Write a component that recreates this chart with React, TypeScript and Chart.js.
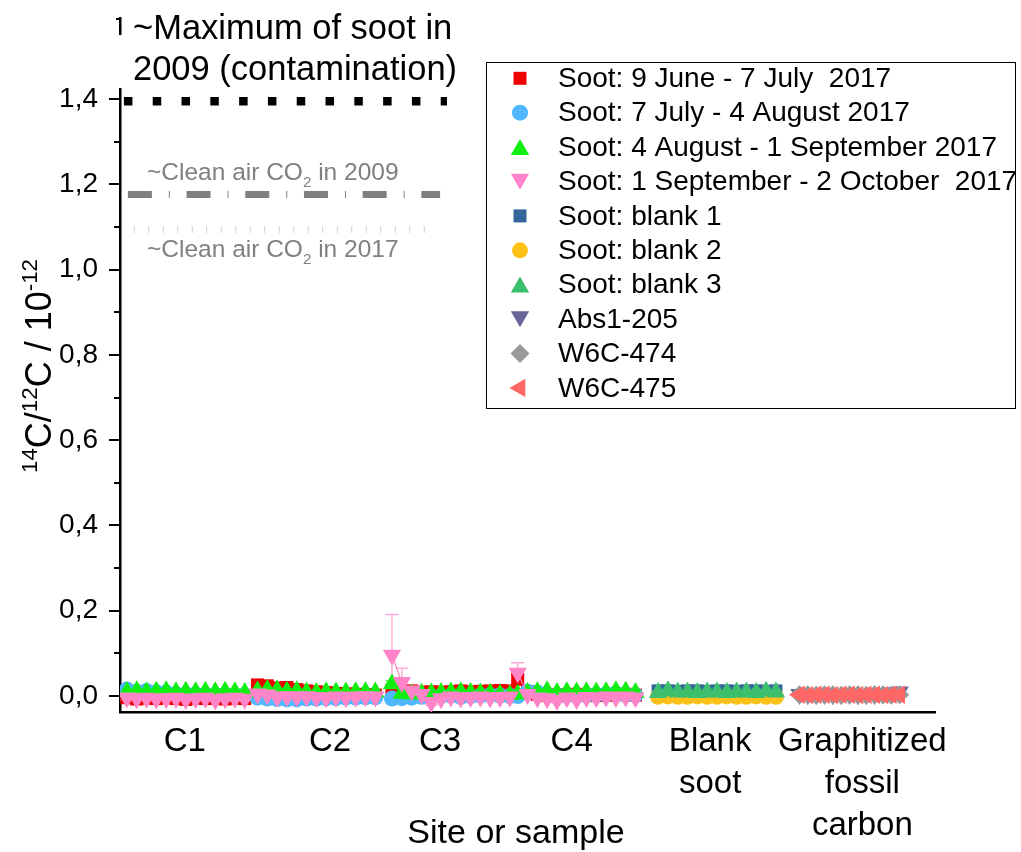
import React, { useEffect, useRef } from 'react';
import { Chart, registerables } from 'chart.js';

Chart.register(...registerables);

const FONT = '"Liberation Sans", Arial, sans-serif';

// ---- Category axis (x in "slot" units) ----
const groupLabels: string[][] = [['C1'], ['C2'], ['C3'], ['C4'], ['Blank', 'soot'], ['Graphitized', 'fossil', 'carbon']];
const groupLabelPos = [6.6, 21.4, 32.6, 46.0, 60.1, 75.6];
const groupStart = [0.7, 14.0, 27.7, 40.5, 54.8, 69.2];
const groupStep = [1, 1, 1, 1, 1, 0.85];

// ---- y axis ----
const yTicks = [0, 0.2, 0.4, 0.6, 0.8, 1.0, 1.2, 1.4];
const yMinorTicks = [0.1, 0.3, 0.5, 0.7, 0.9, 1.1, 1.3, 1.5];

// ---- Reference levels ----
const maxSoot2009 = 1.395;
const cleanAir2009 = 1.176;
const cleanAir2017 = 1.094;

// ---- Series values (one array per site C1..C4) ----
const juneSoot = [
  [-0.004, -0.007, -0.005, -0.006, -0.004, -0.006, -0.008, -0.005, -0.006, -0.004, -0.007, -0.005, -0.006],
  [0.026, 0.024, 0.019, 0.02, 0.015, 0.012, 0.01, 0.008, 0.006, 0.005, 0.004, 0.003, 0.002],
  [0.014, 0.01, 0.012, 0.009, 0.01, 0.009, 0.01, 0.012, 0.01, 0.011, 0.012, 0.013, 0.012],
  [0.039, 0.01, 0.004, 0.002, 0.003, 0.002, 0.004, 0.002, 0.001, 0.002, 0.003, 0.004, 0.002],
];
const juneErr = [
  [0.006, 0.006, 0.005, 0.006, 0.005, 0.006, 0.006, 0.005, 0.006, 0.005, 0.006, 0.005, 0.006],
  [0.007, 0.006, 0.006, 0.006, 0.005, 0.006, 0.005, 0.006, 0.005, 0.006, 0.005, 0.006, 0.005],
  [0.006, 0.005, 0.006, 0.005, 0.006, 0.005, 0.006, 0.005, 0.006, 0.005, 0.006, 0.005, 0.006],
  [0.01, 0.006, 0.005, 0.006, 0.005, 0.006, 0.005, 0.006, 0.005, 0.006, 0.005, 0.006, 0.005],
];
const julySoot = [
  [0.015, 0.01, 0.012, 0.009, 0.008, 0.005, 0.004, 0.004, 0.003, 0.002, 0.003, 0.002, 0.002],
  [-0.004, -0.006, -0.007, -0.008, -0.008, -0.006, -0.006, -0.005, -0.005, -0.004, -0.004, -0.003, -0.003],
  [-0.006, -0.005, -0.004, -0.002, -0.001, 0.0, 0.001, -0.002, 0.0, 0.001, 0.002, 0.001, 0.0],
  [0.0, 0.01, 0.008, 0.003, 0.002, 0.002, 0.001, 0.002, 0.003, 0.004, 0.006, 0.003, 0.002],
];
const julyErr = [
  [0.006, 0.005, 0.006, 0.005, 0.006, 0.005, 0.006, 0.005, 0.006, 0.005, 0.006, 0.005, 0.006],
  [0.005, 0.006, 0.005, 0.006, 0.005, 0.006, 0.005, 0.006, 0.005, 0.006, 0.005, 0.006, 0.005],
  [0.006, 0.005, 0.006, 0.005, 0.006, 0.005, 0.006, 0.005, 0.006, 0.005, 0.006, 0.005, 0.006],
  [0.005, 0.006, 0.005, 0.006, 0.005, 0.006, 0.005, 0.006, 0.005, 0.006, 0.005, 0.006, 0.005],
];
const augustSoot = [
  [0.01, 0.012, 0.01, 0.011, 0.012, 0.01, 0.011, 0.01, 0.011, 0.01, 0.011, 0.01, 0.008],
  [0.012, 0.015, 0.014, 0.011, 0.012, 0.009, 0.008, 0.01, 0.009, 0.009, 0.01, 0.01, 0.009],
  [0.028, 0.006, 0.004, 0.006, 0.007, 0.008, 0.009, 0.01, 0.008, 0.007, 0.006, 0.004, 0.003],
  [0.004, 0.008, 0.01, 0.012, 0.008, 0.01, 0.009, 0.01, 0.009, 0.01, 0.012, 0.011, 0.008],
];
const augustErr = [
  [0.006, 0.006, 0.005, 0.006, 0.005, 0.006, 0.005, 0.006, 0.005, 0.006, 0.005, 0.006, 0.005],
  [0.006, 0.005, 0.006, 0.005, 0.006, 0.005, 0.006, 0.005, 0.006, 0.005, 0.006, 0.005, 0.006],
  [0.008, 0.006, 0.005, 0.006, 0.005, 0.006, 0.005, 0.006, 0.005, 0.006, 0.005, 0.006, 0.005],
  [0.006, 0.005, 0.006, 0.005, 0.006, 0.005, 0.006, 0.005, 0.006, 0.005, 0.006, 0.005, 0.006],
];
const septemberSoot = [
  [-0.004, -0.006, -0.005, -0.007, -0.006, -0.005, -0.008, -0.006, -0.005, -0.009, -0.006, -0.005, -0.007],
  [0.005, 0.003, -0.002, -0.001, -0.002, -0.001, -0.003, -0.004, -0.002, -0.003, -0.002, -0.001, -0.002],
  [0.096, 0.032, 0.012, 0.004, -0.015, -0.006, -0.002, -0.004, -0.003, -0.002, -0.004, -0.003, -0.002],
  [0.054, 0.004, -0.004, -0.006, -0.01, -0.004, -0.008, -0.003, -0.004, -0.002, -0.003, -0.002, -0.004],
];
const septemberErr = [
  [0.006, 0.005, 0.006, 0.005, 0.006, 0.005, 0.006, 0.005, 0.006, 0.005, 0.006, 0.005, 0.006],
  [0.006, 0.006, 0.005, 0.006, 0.005, 0.006, 0.005, 0.006, 0.005, 0.006, 0.005, 0.006, 0.005],
  [0.095, 0.033, 0.008, 0.006, 0.006, 0.005, 0.006, 0.005, 0.006, 0.005, 0.006, 0.005, 0.006],
  [0.024, 0.006, 0.005, 0.006, 0.005, 0.006, 0.005, 0.006, 0.005, 0.006, 0.005, 0.006, 0.005],
];

// ---- Blank soot group ----
const blank1 = [0.012, 0.012, 0.011, 0.012, 0.012, 0.011, 0.012, 0.012, 0.011, 0.012, 0.012, 0.011, 0.012];
const blank2 = [-0.002, -0.001, -0.002, -0.002, -0.001, -0.002, -0.002, -0.001, -0.002, -0.002, -0.001, -0.002, -0.002];
const blank3 = [0.008, 0.012, 0.009, 0.009, 0.008, 0.009, 0.009, 0.008, 0.009, 0.009, 0.008, 0.011, 0.009];

// ---- Graphitized fossil carbon group ----
const abs1205 = [0.004, 0.003, 0.004, 0.004, 0.003, 0.004, 0.004, 0.003, 0.004, 0.004, 0.005, 0.008, 0.01];
const w6c474 = [0.003, 0.003, 0.002, 0.003, 0.003, 0.002, 0.003, 0.003, 0.002, 0.003, 0.003, 0.002, 0.003];
const w6c475 = [0.003, 0.002, 0.003, 0.003, 0.002, 0.003, 0.003, 0.002, 0.003, 0.003, 0.002, 0.003, 0.003];

const seriesNames = [
  'Soot: 9 June - 7 July  2017',
  'Soot: 7 July - 4 August 2017',
  'Soot: 4 August - 1 September 2017',
  'Soot: 1 September - 2 October  2017',
  'Soot: blank 1',
  'Soot: blank 2',
  'Soot: blank 3',
  'Abs1-205',
  'W6C-474',
  'W6C-475',
];

type Style = { color: string; err: string; shape: 'rect' | 'circle' | 'triangle' | 'rectRot'; r: number; rot: number };
const seriesStyles: Style[] = [
  { color: '#ee0000', err: '#f06060', shape: 'rect', r: 9.2, rot: 0 },
  { color: '#4fb8ff', err: '#8fd0ff', shape: 'circle', r: 8, rot: 0 },
  { color: '#11ee11', err: '#70f070', shape: 'triangle', r: 10.6, rot: 0 },
  { color: '#ff85c8', err: '#ffadd8', shape: 'triangle', r: 10.6, rot: 180 },
  { color: '#336699', err: '#6f93b8', shape: 'rect', r: 9.2, rot: 0 },
  { color: '#ffc118', err: '#ffd566', shape: 'circle', r: 8, rot: 0 },
  { color: '#3dbf6e', err: '#7fd39f', shape: 'triangle', r: 10.6, rot: 0 },
  { color: '#666699', err: '#8f8fb5', shape: 'triangle', r: 10.6, rot: 180 },
  { color: '#999999', err: '#b8b8b8', shape: 'rectRot', r: 9.5, rot: 0 },
  { color: '#ff6666', err: '#ff9a9a', shape: 'triangle', r: 10.6, rot: 270 },
];

const seriesData: { groups: number[][]; errs: number[][] | null; first: number }[] = [
  { groups: juneSoot, errs: juneErr, first: 0 },
  { groups: julySoot, errs: julyErr, first: 0 },
  { groups: augustSoot, errs: augustErr, first: 0 },
  { groups: septemberSoot, errs: septemberErr, first: 0 },
  { groups: [blank1], errs: null, first: 4 },
  { groups: [blank2], errs: null, first: 4 },
  { groups: [blank3], errs: null, first: 4 },
  { groups: [abs1205], errs: null, first: 5 },
  { groups: [w6c474], errs: null, first: 5 },
  { groups: [w6c475], errs: null, first: 5 },
];

function buildPoints(groups: number[][], errs: number[][] | null, first: number) {
  const pts: { x: number; y: number | null }[] = [];
  const e: (number | null)[] = [];
  groups.forEach((vals, gi) => {
    const g = first + gi;
    vals.forEach((v, i) => {
      pts.push({ x: groupStart[g] + i * groupStep[g], y: v });
      e.push(errs ? errs[gi][i] : null);
    });
    pts.push({ x: groupStart[g] + vals.length * groupStep[g], y: null });
    e.push(null);
  });
  return { pts, e };
}

function drawShape(ctx: CanvasRenderingContext2D, s: Style, x: number, y: number) {
  ctx.beginPath();
  const r = s.r;
  if (s.shape === 'circle') {
    ctx.arc(x, y, r, 0, Math.PI * 2);
  } else if (s.shape === 'rect') {
    const h = r * Math.SQRT1_2;
    ctx.rect(x - h, y - h, 2 * h, 2 * h);
  } else if (s.shape === 'rectRot') {
    ctx.moveTo(x - r, y);
    ctx.lineTo(x, y - r);
    ctx.lineTo(x + r, y);
    ctx.lineTo(x, y + r);
    ctx.closePath();
  } else {
    let a = (s.rot * Math.PI) / 180;
    for (let k = 0; k < 3; k++) {
      const px = x + Math.sin(a) * r;
      const py = y - Math.cos(a) * r;
      if (k === 0) ctx.moveTo(px, py);
      else ctx.lineTo(px, py);
      a += (2 * Math.PI) / 3;
    }
    ctx.closePath();
  }
  ctx.fillStyle = s.color;
  ctx.fill();
}

function drawWithSub(
  ctx: CanvasRenderingContext2D,
  parts: { t: string; kind: 'n' | 'sub' | 'sup' }[],
  x: number,
  y: number,
  size: number,
) {
  let cx = x;
  for (const p of parts) {
    const s = p.kind === 'n' ? size : size * 0.62;
    ctx.font = `${s}px ${FONT}`;
    const dy = p.kind === 'sub' ? size * 0.28 : p.kind === 'sup' ? -size * 0.4 : 0;
    ctx.fillText(p.t, cx, y + dy);
    cx += ctx.measureText(p.t).width;
  }
  return cx;
}

const overlayPlugin = {
  id: 'overlay',
  beforeDatasetsDraw(chart: any) {
    const ctx: CanvasRenderingContext2D = chart.ctx;
    const ys = chart.scales.y;
    chart.data.datasets.forEach((ds: any, di: number) => {
      const meta = chart.getDatasetMeta(di);
      const errs: (number | null)[] = ds.errs;
      const st = seriesStyles[di];
      ctx.save();
      ctx.strokeStyle = st.err;
      ctx.lineWidth = 1.5;
      meta.data.forEach((el: any, i: number) => {
        const raw = ds.data[i];
        const e = errs[i];
        if (raw.y === null || e === null || e === undefined) return;
        const x = el.x;
        const top = ys.getPixelForValue(raw.y + e);
        const bot = ys.getPixelForValue(raw.y - e);
        ctx.beginPath();
        ctx.moveTo(x, top);
        ctx.lineTo(x, bot);
        ctx.moveTo(x - 6.5, top);
        ctx.lineTo(x + 6.5, top);
        ctx.moveTo(x - 6.5, bot);
        ctx.lineTo(x + 6.5, bot);
        ctx.stroke();
      });
      ctx.restore();
    });
  },
  afterDraw(chart: any) {
    const ctx: CanvasRenderingContext2D = chart.ctx;
    const ys = chart.scales.y;
    const xs = chart.scales.x;
    const left = chart.chartArea.left;
    ctx.save();

    // y ticks (major + minor)
    ctx.strokeStyle = '#000';
    ctx.lineWidth = 2;
    yTicks.forEach((v) => {
      const p = Math.round(ys.getPixelForValue(v));
      ctx.beginPath();
      ctx.moveTo(left - 11, p);
      ctx.lineTo(left, p);
      ctx.stroke();
    });
    yMinorTicks.forEach((v) => {
      const p = Math.round(ys.getPixelForValue(v));
      ctx.beginPath();
      ctx.moveTo(left - 6, p);
      ctx.lineTo(left, p);
      ctx.stroke();
    });
    // short cap at the top end of the axis
    ctx.beginPath();
    ctx.moveTo(left - 4, chart.chartArea.top + 1);
    ctx.lineTo(left, chart.chartArea.top + 1);
    ctx.stroke();

    // white box behind the annotation
    ctx.fillStyle = '#fff';
    ctx.fillRect(left - 14, 35, 361, 53);

    // annotation text
    ctx.fillStyle = '#000';
    ctx.textBaseline = 'alphabetic';
    ctx.textAlign = 'left';
    ctx.font = `34.5px ${FONT}`;
    ctx.fillText('~Maximum of soot in', 133, 39);
    ctx.fillText('2009 (contamination)', 133, 80);

    // reference lines
    const lineAt = (v: number, x0: number, x1: number, w: number, color: string, dash: number[]) => {
      const p = ys.getPixelForValue(v);
      ctx.beginPath();
      ctx.setLineDash(dash);
      ctx.lineCap = 'butt';
      ctx.strokeStyle = color;
      ctx.lineWidth = w;
      ctx.moveTo(xs.getPixelForValue(x0), p);
      ctx.lineTo(xs.getPixelForValue(x1), p);
      ctx.stroke();
    };
    lineAt(maxSoot2009, 0.4, 33.3, 8.5, '#000', [8.5, 20.3]);
    lineAt(cleanAir2009, 0.8, 32.6, 7, '#808080', [24, 17, 1, 16.7]);
    lineAt(cleanAir2017, 1.4, 32.4, 7, '#d0d0d0', [1, 13.5]);
    ctx.setLineDash([]);

    // gray labels
    ctx.fillStyle = '#808080';
    drawWithSub(ctx, [{ t: '~Clean air CO', kind: 'n' }, { t: '2', kind: 'sub' }, { t: ' in 2009', kind: 'n' }], 147, 180, 24.5);
    drawWithSub(ctx, [{ t: '~Clean air CO', kind: 'n' }, { t: '2', kind: 'sub' }, { t: ' in 2017', kind: 'n' }], 147, 257, 24.5);

    // legend
    ctx.fillStyle = '#fff';
    ctx.fillRect(486.5, 62.5, 529, 346);
    ctx.strokeStyle = '#000';
    ctx.lineWidth = 1;
    ctx.strokeRect(486.5, 62.5, 529, 346);
    ctx.textBaseline = 'middle';
    seriesNames.forEach((name, i) => {
      const cy = 78.3 + i * 34.4;
      const st = seriesStyles[i];
      const off = st.shape === 'triangle' && st.rot === 0 ? 2.5 : st.shape === 'triangle' && st.rot === 180 ? -2.5 : 0;
      drawShape(ctx, st, 520, cy + off);
      ctx.fillStyle = '#000';
      ctx.font = `28px ${FONT}`;
      ctx.fillText(name, 558, cy + 1);
    });

    // x title
    ctx.textAlign = 'center';
    ctx.textBaseline = 'middle';
    ctx.font = `34px ${FONT}`;
    ctx.fillText('Site or sample', 516, 834);

    // y title (rotated, with superscripts)
    ctx.save();
    ctx.translate(51, 366);
    ctx.rotate(-Math.PI / 2);
    ctx.textAlign = 'left';
    ctx.textBaseline = 'alphabetic';
    const parts: { t: string; kind: 'n' | 'sup' }[] = [
      { t: '14', kind: 'sup' },
      { t: 'C/', kind: 'n' },
      { t: '12', kind: 'sup' },
      { t: 'C / 10', kind: 'n' },
      { t: '-12', kind: 'sup' },
    ];
    const ts = 36;
    let w = 0;
    for (const p of parts) {
      ctx.font = `${p.kind === 'n' ? ts : ts * 0.62}px ${FONT}`;
      w += ctx.measureText(p.t).width;
    }
    drawWithSub(ctx, parts, -w / 2, 0, ts);
    ctx.restore();

    ctx.restore();
  },
};

export default function App() {
  const ref = useRef<HTMLCanvasElement | null>(null);
  useEffect(() => {
    if (!ref.current) return;
    const datasets = seriesData.map((s, i) => {
      const { pts, e } = buildPoints(s.groups, s.errs, s.first);
      const st = seriesStyles[i];
      return {
        label: seriesNames[i],
        data: pts,
        errs: e,
        borderColor: st.color,
        backgroundColor: st.color,
        borderWidth: 1.2,
        pointStyle: st.shape,
        pointRadius: st.r,
        pointRotation: st.rot,
        pointBorderWidth: 0,
        pointBackgroundColor: st.color,
        pointBorderColor: st.color,
        spanGaps: false,
        order: seriesNames.length - i,
      };
    });
    const chart = new Chart(ref.current, {
      type: 'line',
      data: { datasets: datasets as any },
      plugins: [overlayPlugin as any],
      options: {
        animation: false,
        responsive: true,
        maintainAspectRatio: false,
        layout: { padding: { left: 0, top: 18, right: 86, bottom: 0 } },
        plugins: { legend: { display: false }, tooltip: { enabled: false } },
        scales: {
          x: {
            type: 'linear',
            min: 0,
            max: 83,
            grid: { display: false, drawTicks: false },
            border: { display: true, color: '#000', width: 2.5 },
            afterBuildTicks: (s: any) => {
              s.ticks = groupLabelPos.map((v) => ({ value: v }));
            },
            afterFit: (s: any) => {
              s.height = 140;
              s.paddingLeft = 0;
              s.paddingRight = 0;
            },
            ticks: {
              autoSkip: false,
              maxRotation: 0,
              minRotation: 0,
              padding: 9,
              color: '#000',
              font: { family: FONT, size: 33, lineHeight: 1.27 },
              callback: (_v: any, i: number) => groupLabels[i],
            },
          },
          y: {
            type: 'linear',
            min: -0.0375,
            max: 1.59,
            grid: { display: false, drawTicks: false },
            border: { display: true, color: '#000', width: 2.5 },
            afterBuildTicks: (s: any) => {
              s.ticks = yTicks.map((v) => ({ value: v }));
            },
            afterFit: (s: any) => {
              s.width = 120;
              s.paddingTop = 0;
              s.paddingBottom = 0;
            },
            ticks: {
              padding: 22,
              color: '#000',
              font: { family: FONT, size: 28 },
              callback: (v: any) => Number(v).toFixed(1).replace('.', ','),
            },
          },
        },
      },
    });
    return () => chart.destroy();
  }, []);
  return (
    <div style={{ position: 'fixed', left: 0, top: 0, width: 1021, height: 852, background: '#fff' }}>
      <canvas ref={ref} />
    </div>
  );
}
